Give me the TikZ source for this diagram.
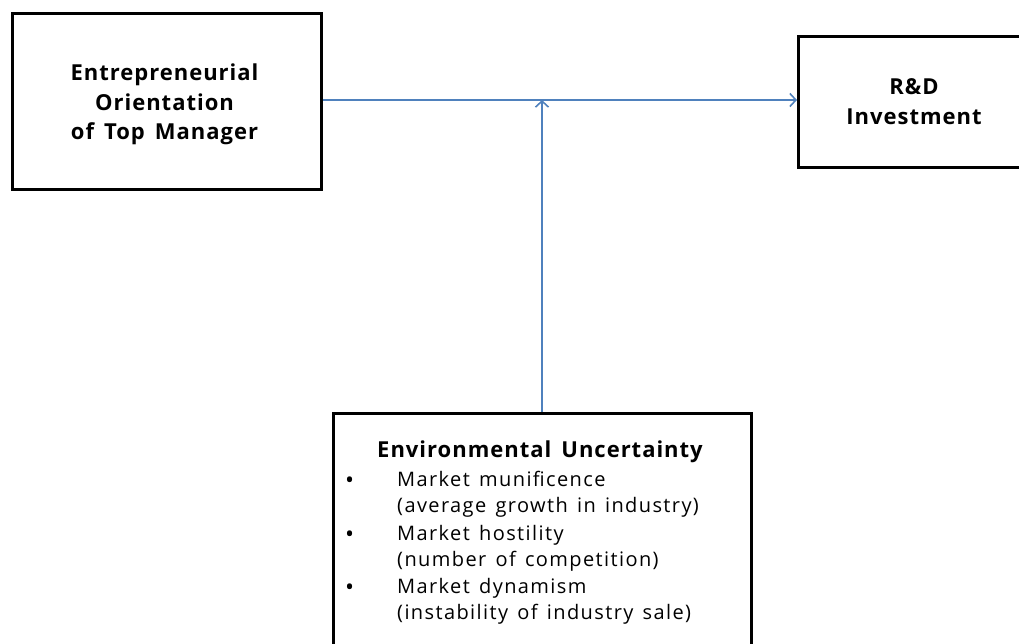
\documentclass[tikz,border=0pt]{standalone}
\usepackage{fontspec}
\setmainfont{Open Sans}
\newfontfamily\itemfont[LetterSpace=7,WordSpace=1.4]{Open Sans}
\newfontfamily\headfont[LetterSpace=4.5,WordSpace=1.5]{Open Sans}
\usetikzlibrary{arrows.meta}
\definecolor{linkblue}{RGB}{79,129,189}
\tikzset{
  box/.style={draw=black, line width=3pt, fill=white},
  link/.style={draw=linkblue, line width=1.6pt, -{Straight Barb[length=6pt,width=13pt,line width=1.6pt]}},
  bigtxt/.style={font=\headfont\fontsize{22}{29.5}\selectfont\bfseries, align=center, inner sep=0pt},
  itemtxt/.style={font=\itemfont\fontsize{20}{26.7}\selectfont, inner sep=0pt, anchor=base west},
  bullettxt/.style={font=\fontsize{24}{26.7}\selectfont, inner sep=0pt, anchor=base west},
}
\begin{document}
\begin{tikzpicture}[x=1pt,y=-1pt]
\useasboundingbox (0,0) rectangle (1019,644);
\begin{scope}
\clip (0,0) rectangle (1019,644);
% boxes
\node[box, minimum width=309pt, minimum height=176pt, anchor=north west, inner sep=0pt] (eo) at (10.5,12.5) {};
\node[box, minimum width=260pt, minimum height=131pt, anchor=north west, inner sep=0pt] (rd) at (797,35) {};
\node[box, minimum width=418pt, minimum height=260pt, anchor=north west, inner sep=0pt] (eu) at (331.5,411.5) {};
% texts
\node[bigtxt, anchor=base] (eot1) at (164.5,81) {Entrepreneurial};
\node[bigtxt, anchor=base] (eot2) at (164.5,110.5) {Orientation};
\node[bigtxt, anchor=base] (eot3) at (164.5,140) {of Top Manager};
\node[bigtxt, anchor=base] (rdt1) at (914,95) {R\&D};
\node[bigtxt, anchor=base] (rdt2) at (914,124.5) {Investment};
\node[bigtxt, anchor=base] (eut) at (540,457) {Environmental Uncertainty};
\node[bullettxt] (b1) at (345,488) {•};
\node[bullettxt] (b2) at (345,542) {•};
\node[bullettxt] (b3) at (345,595) {•};
\node[itemtxt] (i1) at (397,486) {Market munificence};
\node[itemtxt] (i1b) at (397,512.7) {(average growth in industry)};
\node[itemtxt] (i2) at (397,540) {Market hostility};
\node[itemtxt] (i2b) at (397,566.5) {(number of competition)};
\node[itemtxt] (i3) at (397,593) {Market dynamism};
\node[itemtxt] (i3b) at (397,619.5) {(instability of industry sale)};
% connectors
\coordinate (mid) at (542,100);
\draw[link] (eo.east |- mid) -- (rd.west |- mid);
\draw[link] (eu.north -| mid) -- (mid);
\end{scope}
\end{tikzpicture}
\end{document}
